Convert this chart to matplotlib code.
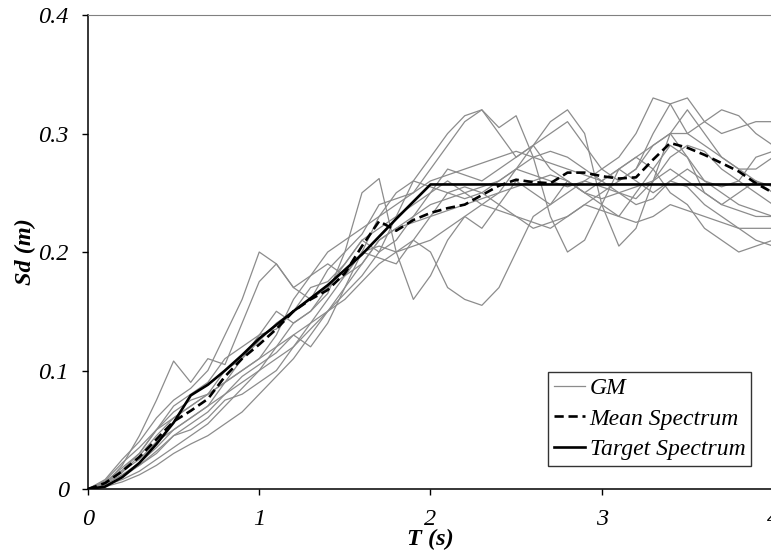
import numpy as np
import matplotlib.pyplot as plt

# periods (s)
T = np.round(np.arange(0, 4.01, 0.1), 2)

# ground motion spectra Sd (m)
gm_a = [0, .004, .020, .045, .075, .108, .090, .110, .105, .140, .175, .190, .170, .160, .185, .200, .215, .240, .245, .250, .270,
        .290, .310, .320, .300, .280, .290, .300, .310, .290, .270, .260, .270, .300, .325, .330, .310, .300, .305, .310, .310]
gm_b = [0, .006, .018, .030, .050, .060, .070, .080, .100, .110, .130, .150, .140, .150, .165, .200, .250, .262, .200, .160, .180,
        .210, .230, .220, .240, .260, .250, .240, .260, .250, .240, .230, .250, .270, .290, .280, .260, .250, .240, .235, .230]
gm_c = [0, .003, .010, .020, .030, .045, .050, .060, .075, .080, .090, .100, .120, .140, .160, .180, .200, .205, .200, .210, .200,
        .170, .160, .155, .170, .200, .230, .240, .250, .260, .255, .250, .240, .245, .260, .255, .240, .230, .220, .210, .205]
gm_d = [0, .005, .015, .025, .040, .050, .060, .070, .090, .100, .110, .120, .140, .150, .170, .190, .210, .220, .230, .240, .250,
        .260, .250, .240, .250, .270, .290, .310, .320, .300, .240, .205, .220, .260, .300, .320, .300, .280, .270, .270, .280]
gm_e = [0, .004, .012, .022, .035, .050, .060, .070, .080, .095, .105, .115, .130, .140, .150, .165, .180, .200, .230, .260, .280,
        .300, .315, .320, .305, .315, .280, .230, .200, .210, .240, .270, .280, .270, .250, .240, .220, .210, .200, .205, .210]
gm_f = [0, .008, .025, .040, .060, .075, .085, .100, .130, .160, .200, .190, .170, .180, .200, .210, .220, .230, .240, .250, .260,
        .265, .270, .275, .280, .285, .280, .275, .270, .265, .260, .270, .280, .290, .300, .300, .290, .280, .270, .260, .255]
gm_g = [0, .002, .006, .012, .020, .030, .038, .045, .055, .065, .080, .095, .110, .130, .150, .170, .190, .210, .220, .225, .230,
        .235, .240, .245, .250, .255, .260, .265, .260, .250, .245, .250, .255, .260, .270, .260, .250, .240, .235, .230, .230]
gm_h = [0, .005, .014, .028, .045, .060, .070, .080, .090, .110, .125, .140, .150, .160, .170, .180, .190, .210, .220, .230, .240,
        .245, .250, .255, .260, .270, .265, .260, .255, .260, .270, .280, .300, .330, .325, .300, .310, .320, .315, .300, .290]
gm_i = [0, .004, .012, .020, .032, .045, .055, .065, .080, .090, .100, .120, .130, .120, .140, .170, .200, .195, .190, .210, .230,
        .250, .255, .250, .240, .230, .220, .225, .230, .240, .250, .260, .270, .290, .300, .280, .250, .240, .250, .260, .250]
gm_j = [0, .007, .022, .035, .050, .065, .075, .080, .090, .100, .110, .130, .160, .180, .190, .180, .200, .230, .250, .260, .255,
        .250, .245, .250, .260, .270, .280, .285, .280, .270, .260, .250, .245, .260, .280, .290, .285, .270, .260, .250, .240]
gm_k = [0, .003, .008, .015, .025, .035, .045, .055, .070, .085, .100, .110, .120, .135, .150, .160, .175, .190, .200, .205, .210,
        .220, .230, .240, .235, .230, .225, .220, .230, .240, .235, .230, .225, .230, .240, .235, .230, .225, .220, .220, .220]
gm_l = [0, .006, .016, .030, .050, .070, .080, .090, .110, .120, .130, .135, .150, .170, .175, .190, .210, .200, .210, .230, .250,
        .270, .265, .260, .270, .280, .290, .270, .260, .250, .260, .270, .260, .250, .260, .270, .260, .255, .260, .280, .285]
records = [gm_a, gm_b, gm_c, gm_d, gm_e, gm_f, gm_g, gm_h, gm_i, gm_j, gm_k, gm_l]

mean_sd = [0, .005, .015, .027, .042, .057, .066, .076, .095, .110, .122, .135, .150, .160, .168, .182, .205, .226, .218, .227, .233,
           .237, .240, .248, .256, .261, .259, .258, .267, .267, .264, .262, .263, .278, .292, .288, .282, .275, .268, .258, .250]

target_T = [0, 0.1, 0.2, 0.3, 0.4, 0.5, 0.6, 0.7, 0.8, 0.9, 1.0, 1.2, 1.4, 1.6, 1.8, 2.0, 4.0]
target_sd = [0, .002, .010, .022, .038, .056, .079, .088, .100, .113, .127, .150, .172, .198, .228, .257, .257]

plt.rcParams['font.family'] = ['Liberation Serif', 'DejaVu Serif']
plt.rcParams['font.style'] = 'italic'
fs = 17.5

fig = plt.figure(figsize=(7.71, 5.54), dpi=100)
ax = fig.add_axes([0.1141, 0.1173, 0.8885, 0.8556])

for i, r in enumerate(records):
    ax.plot(T, r, color='#8c8c8c', lw=0.9, label='GM' if i == 0 else None)
ax.plot(T, mean_sd, color='black', lw=1.9, ls=(0, (3.5, 1.8)), label='Mean Spectrum')
ax.plot(target_T, target_sd, color='black', lw=1.9, label='Target Spectrum')

ax.set_xlim(0, 4)
ax.set_ylim(0, 0.4)
ax.set_xticks([0, 1, 2, 3, 4])
ax.set_xticklabels(['0', '1', '2', '3', '4'])
ax.set_yticks([0, 0.1, 0.2, 0.3, 0.4])
ax.set_yticklabels(['0', '0.1', '0.2', '0.3', '0.4'])
ax.tick_params(labelsize=fs, direction='out', length=4.3, width=1)
ax.tick_params(axis='x', pad=10)
ax.tick_params(axis='y', pad=9.5)
ax.spines['right'].set_visible(False)
ax.spines['top'].set_color('#808080')
ax.spines['left'].set_linewidth(1.1)
ax.spines['bottom'].set_linewidth(1.1)

ax.set_xlabel('T (s)', fontsize=fs, fontweight='bold', labelpad=-1)
ax.set_ylabel('Sd (m)', fontsize=fs, fontweight='bold', labelpad=1.5)

leg = ax.legend(loc='lower left', bbox_to_anchor=(0.672, 0.0485), borderaxespad=0,
                fontsize=17, frameon=True, fancybox=False, handlelength=1.3,
                handletextpad=0.2, borderpad=0.25, labelspacing=0.38)
leg.get_frame().set_edgecolor('black')
leg.get_frame().set_linewidth(1.0)

fig.savefig('out.png', dpi=100)
